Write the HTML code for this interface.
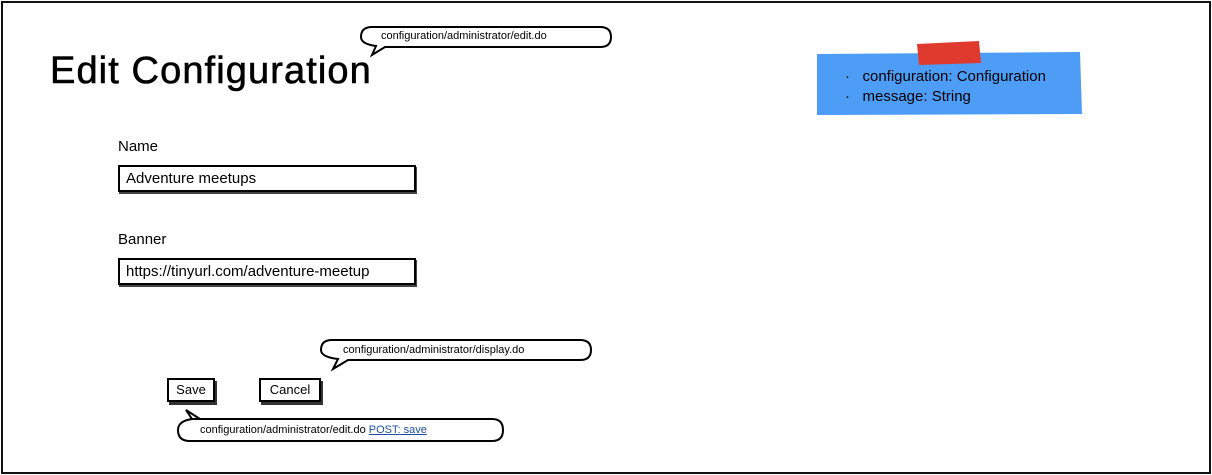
<!DOCTYPE html>
<html><head><meta charset="utf-8"><style>
*{margin:0;padding:0;box-sizing:border-box}
body{width:1212px;height:475px;background:#fff;position:relative;overflow:hidden;font-family:"Liberation Sans",sans-serif;color:#000}
.a{position:absolute;white-space:nowrap}
.inp{position:absolute;border:2px solid #000;box-shadow:1px 2px 0 #444;font-size:15px;padding-left:6px;line-height:23px}
.btn{position:absolute;border:2px solid #000;box-shadow:2px 3px 0 #333;font-size:13px;text-align:center;line-height:20px;background:#fff}
</style></head><body>
<div class="a" style="left:1px;top:1px;width:1210px;height:473px;border:2px solid #111"></div>
<div class="a" style="left:50px;top:48px;font-size:38px;line-height:46px;letter-spacing:1.1px;-webkit-text-stroke:0.6px #000">Edit Configuration</div>
<svg class="a" style="left:0;top:0" width="1212" height="475">
<g fill="#fff" stroke="#000" stroke-width="2">
<path d="M372,27 H600 Q611,27 611,37 Q611,47 600,47 H385 L372,55 L376,46 Q361,44 361,37 Q361,27 372,27Z"/>
<path d="M332,340 H580 Q591,340 591,350 Q591,360 580,360 H348 L333,369 L338,359 Q321,357 321,350 Q321,340 332,340Z"/>
<path d="M190,419 H492 Q503,419 503,430 Q503,441 492,441 H190 Q178,441 178,430 Q178,421 192,419 L186,410 L200,419Z"/>
</g>
<path d="M817,54 L1080,52 L1082,114 L817,115Z" fill="#4d9cf6"/>
<path d="M917,44 L979,41 L981,63 L919,65Z" fill="#e03a2e"/>
</svg>
<div class="a" style="left:381px;top:30px;font-size:11px">configuration/administrator/edit.do</div>
<div class="a" style="left:343px;top:344px;font-size:11px">configuration/administrator/display.do</div>
<div class="a" style="left:200px;top:424px;font-size:11px">configuration/administrator/edit.do <span style="color:#1f4fa8;text-decoration:underline">POST: save</span></div>
<div class="a" style="left:845px;top:67px;font-size:15px;line-height:20px">·&nbsp;&nbsp;&nbsp;configuration: Configuration<br>·&nbsp;&nbsp;&nbsp;message: String</div>
<div class="a" style="left:118px;top:138px;font-size:15px">Name</div>
<div class="inp" style="left:118px;top:165px;width:298px;height:27px">Adventure meetups</div>
<div class="a" style="left:118px;top:231px;font-size:15px">Banner</div>
<div class="inp" style="left:118px;top:258px;width:298px;height:27px">https://tinyurl.com/adventure-meetup</div>
<div class="btn" style="left:167px;top:378px;width:48px;height:24px">Save</div>
<div class="btn" style="left:259px;top:378px;width:62px;height:24px">Cancel</div>
</body></html>
